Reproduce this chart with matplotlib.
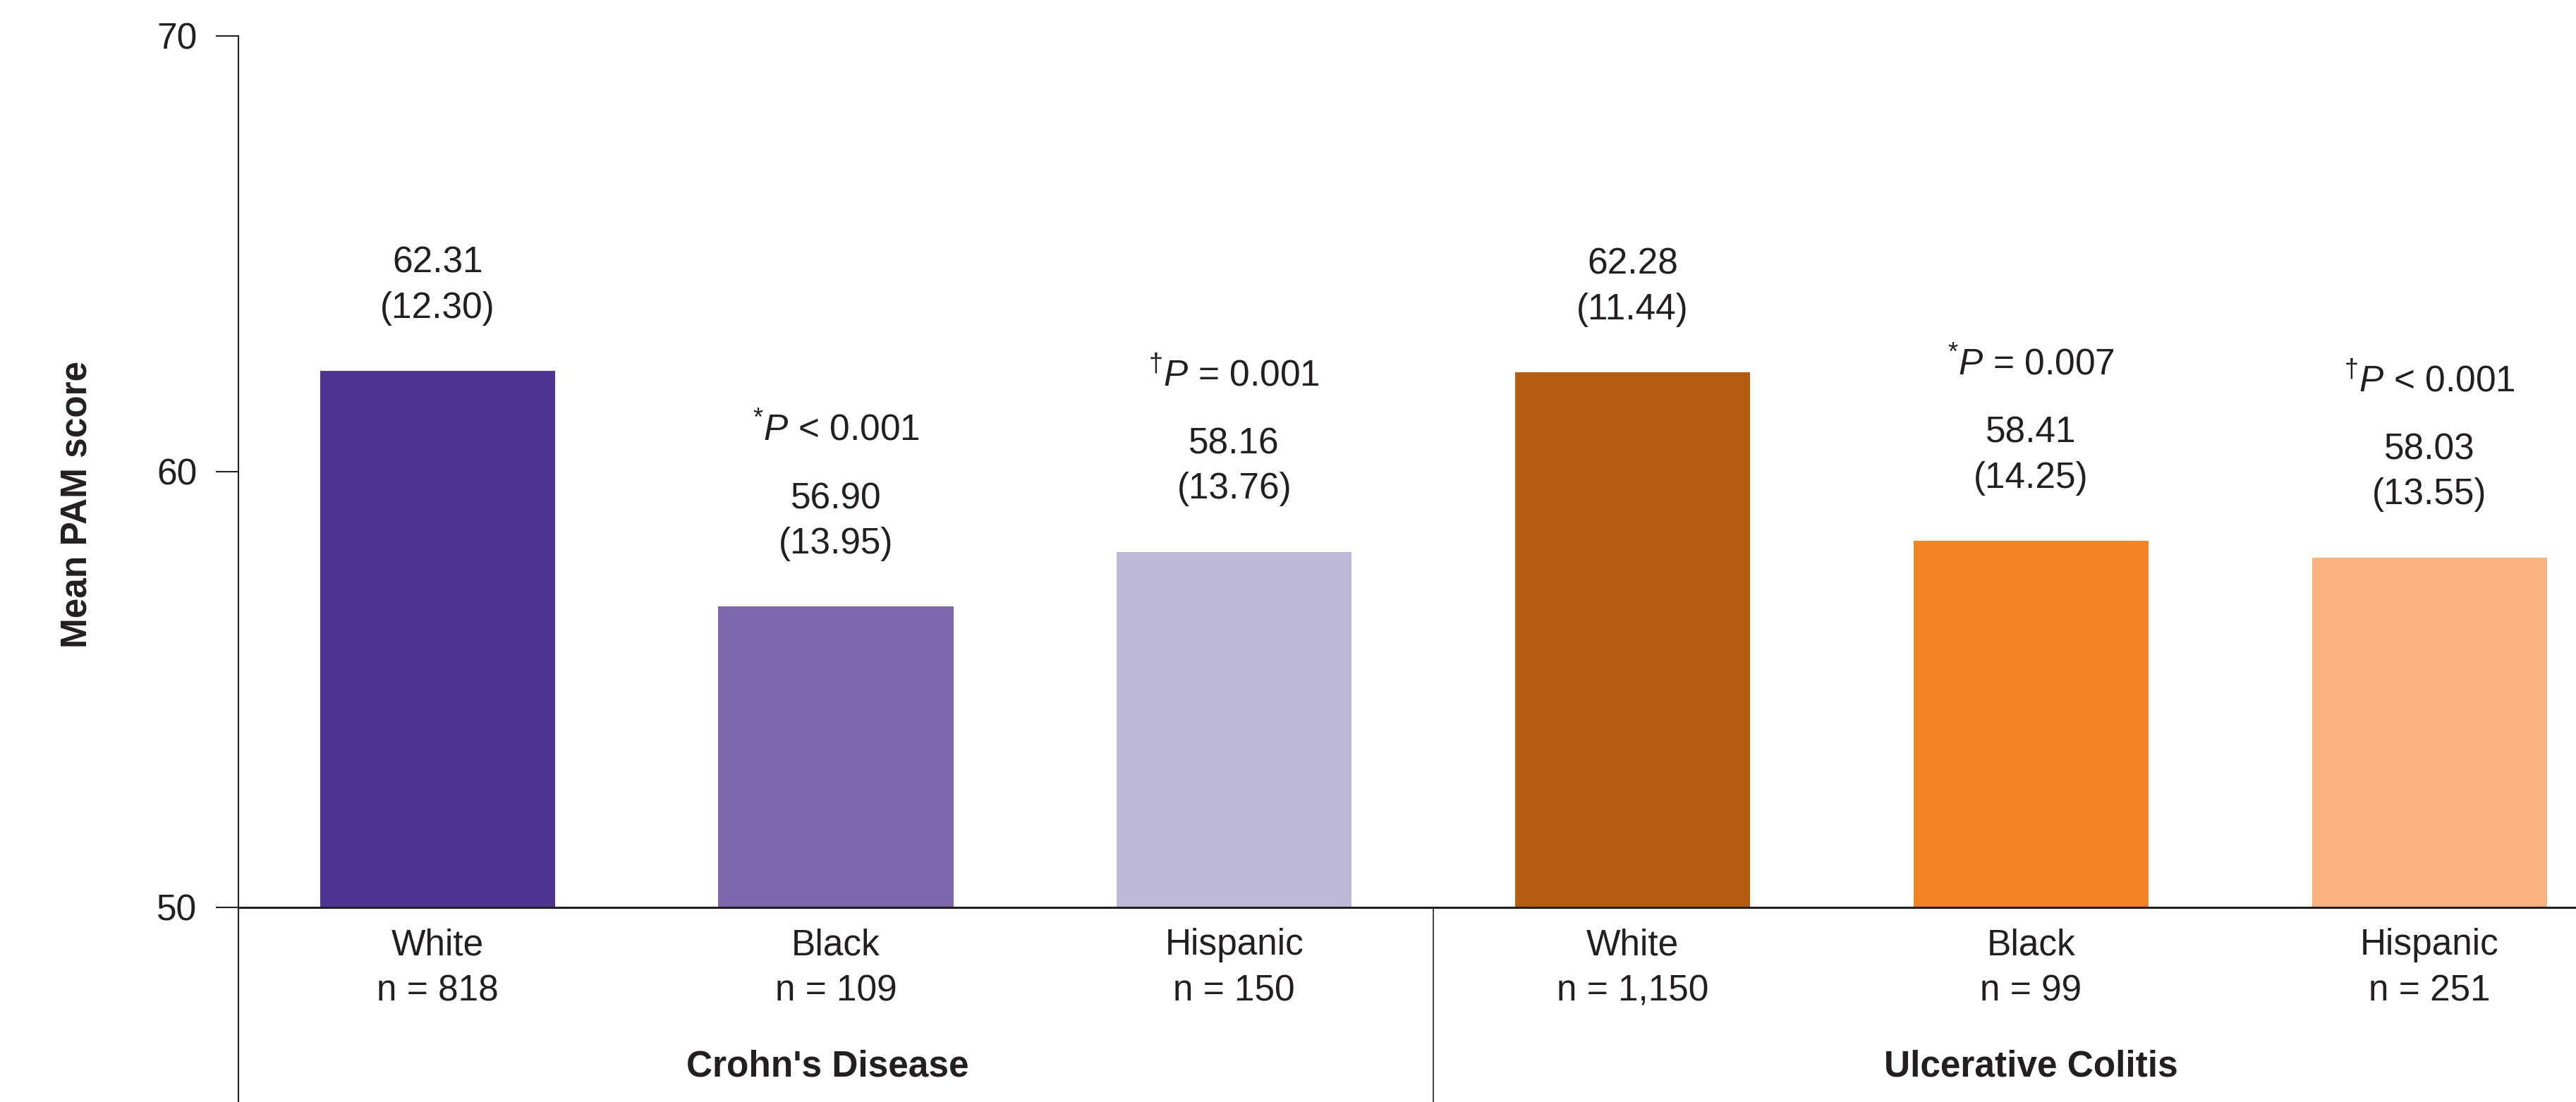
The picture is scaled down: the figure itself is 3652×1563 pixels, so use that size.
import matplotlib
matplotlib.use("Agg")
import matplotlib.pyplot as plt
import numpy as np

plt.rcParams["font.family"] = ["Liberation Sans", "DejaVu Sans"]
plt.rcParams["mathtext.fontset"] = "custom"
plt.rcParams["mathtext.rm"] = "Liberation Sans"
plt.rcParams["mathtext.it"] = "Liberation Sans:italic"

# data
groups = ["Crohn's Disease", "Ulcerative Colitis"]
races = ["White", "Black", "Hispanic", "White", "Black", "Hispanic"]
n_labels = ["n = 818", "n = 109", "n = 150", "n = 1,150", "n = 99", "n = 251"]
means = [62.31, 56.90, 58.16, 62.28, 58.41, 58.03]
sds = ["(12.30)", "(13.95)", "(13.76)", "(11.44)", "(14.25)", "(13.55)"]
p_labels = ["", r"$^{*}P$ < 0.001", r"$^{\dagger}P$ = 0.001",
            "", r"$^{*}P$ = 0.007", r"$^{\dagger}P$ < 0.001"]
colors = ["#4F3593", "#7E68AD", "#BDB7D8", "#B55E12", "#F48226", "#F9B27B"]

TXT = "#231F20"
FS = 37
BASE = 50
YLO = 45.53

fig = plt.figure(figsize=(36.52, 15.63), dpi=100)
ax = fig.add_axes([0.0925, 0.0, 0.9075, 0.9674])

x = np.arange(len(means))
heights = np.array(means) - BASE
ax.bar(x, heights, bottom=BASE, width=0.59, color=colors, zorder=2)

ax.set_xlim(-0.5, 5.368)
ax.set_ylim(YLO, 70)

# axis cosmetics
for s in ["top", "right", "bottom"]:
    ax.spines[s].set_visible(False)
ax.spines["left"].set_linewidth(1.5)
ax.spines["left"].set_color(TXT)
ax.set_xticks([])
ax.set_yticks([50, 60, 70])
ax.tick_params(axis="y", length=23, width=1.5, pad=19, labelsize=FS,
               colors=TXT)
ax.axhline(BASE, color=TXT, lw=2.2, zorder=3)
ax.vlines(2.5, YLO, BASE, color=TXT, lw=1.2)

# annotations above bars
for xi, m, sd, p in zip(x, means, sds, p_labels):
    ax.annotate(sd, (xi, m), xytext=(0, 64), textcoords="offset points",
                ha="center", va="center", fontsize=FS, color=TXT)
    ax.annotate(f"{m:.2f}", (xi, m), xytext=(0, 110), textcoords="offset points",
                ha="center", va="center", fontsize=FS, color=TXT)
    if p:
        ax.annotate(p, (xi, m), xytext=(0, 180), textcoords="offset points",
                    ha="center", va="center", fontsize=FS, color=TXT)

# category labels under axis
for xi, r, n in zip(x, races, n_labels):
    ax.text(xi, 49.13, r, ha="center", va="center", fontsize=FS, color=TXT)
    ax.text(xi, 48.07, n, ha="center", va="center", fontsize=FS, color=TXT)
for gx, g in zip([0.98, 4.0], groups):
    ax.text(gx, 46.34, g, ha="center", va="center", fontsize=FS,
            fontweight="bold", color=TXT)

fig.text(109 / 3652, 1 - 715 / 1563, "Mean PAM score", rotation=90,
         ha="center", va="center", fontsize=FS, fontweight="bold", color=TXT)

fig.savefig("out.png", dpi=100, facecolor="white")
